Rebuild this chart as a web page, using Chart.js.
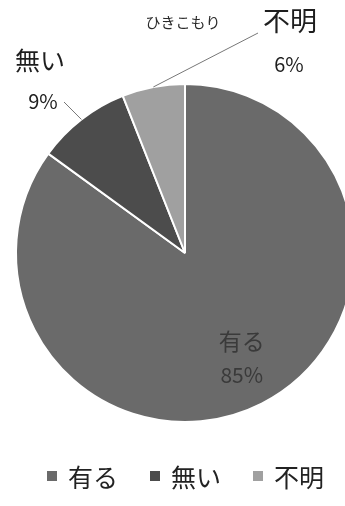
<!DOCTYPE html>
<html>
<head>
<meta charset="utf-8">
<script src="https://cdn.jsdelivr.net/npm/chart.js@4.4.0/dist/chart.umd.min.js"></script>
<style>
  html, body { margin: 0; padding: 0; background: #fff; overflow: hidden; width: 345px; height: 506px; }
  #wrap { position: relative; width: 345px; height: 506px; }
  #pie { position: absolute; left: 0; top: 0; }
  #legend { position: absolute; left: 47px; top: 458px; width: 320px; display: flex; white-space: nowrap;
            font-family: "Noto Sans CJK JP", sans-serif; font-size: 25px; line-height: 36px; color: #222; }
  #legend span.item { display: flex; flex: none; align-items: center; margin: 0 32px 0 0; }
  #legend span.box { display: inline-block; flex: none; width: 10px; height: 10px; margin-right: 11px; }
</style>
</head>
<body>
<div id="wrap">
  <canvas id="pie" width="370" height="506"></canvas>
  <div id="legend"></div>
</div>
<script>
// 回答の内訳
const labels = ['有る', '無い', '不明'];
const values = [85, 9, 6];
const colors = ['#6a6a6a', '#4c4c4c', '#a0a0a0'];

// 円グラフの外側に置くラベルの位置
const labelSpots = {
    '有る': { inside: true },
    '無い': { tx: 40, ty: 60, px: 43, py: 101, lx: 64, ly: 102 },
    '不明': { tx: 290, ty: 21, px: 289, py: 64, lx: 258, ly: 33 }
};

// 凡例（HTML）
const legendEl = document.getElementById('legend');
labels.forEach(function(name, i) {
    const item = document.createElement('span');
    item.className = 'item';
    item.innerHTML = '<span class="box" style="background:' + colors[i] + '"></span>' + name;
    legendEl.appendChild(item);
});

const pieLabels = {
    id: 'pieLabels',
    afterDraw: function(chart) {
        const ctx = chart.ctx;
        const meta = chart.getDatasetMeta(0);
        ctx.save();
        ctx.textAlign = 'center';
        ctx.textBaseline = 'middle';
        meta.data.forEach(function(arc, i) {
            const name = labels[i];
            const pct = values[i] + '%';
            const mid = (arc.startAngle + arc.endAngle) / 2;
            const spot = labelSpots[name];
            if (spot.inside) {
                const r = arc.outerRadius * 0.7;
                const x = arc.x + Math.cos(mid) * r;
                const y = arc.y + Math.sin(mid) * r;
                ctx.fillStyle = '#3a3a3a';
                ctx.font = '23px "Noto Sans CJK JP"';
                ctx.fillText(name, x + 3, y - 17);
                ctx.font = '21px "Noto Sans CJK JP"';
                ctx.fillText(pct, x + 3, y + 17);
                return;
            }
            // 引き出し線
            const ex = arc.x + Math.cos(mid) * arc.outerRadius;
            const ey = arc.y + Math.sin(mid) * arc.outerRadius;
            ctx.strokeStyle = '#777';
            ctx.lineWidth = 1;
            ctx.beginPath();
            ctx.moveTo(ex, ey);
            ctx.lineTo(spot.lx, spot.ly);
            ctx.stroke();
            ctx.fillStyle = '#1e1e1e';
            ctx.font = (name === '不明' ? '27px' : '25px') + ' "Noto Sans CJK JP"';
            ctx.fillText(name, spot.tx, spot.ty);
            ctx.font = '20px "Noto Sans CJK JP"';
            ctx.fillText(pct, spot.px, spot.py);
        });
        // 補足の小さな文字
        ctx.fillStyle = '#2a2a2a';
        ctx.font = '15px "Noto Sans CJK JP"';
        ctx.fillText('ひきこもり', 183, 22);
        ctx.restore();
    }
};

new Chart(document.getElementById('pie'), {
    type: 'pie',
    data: {
        labels: labels,
        datasets: [{
            data: values,
            backgroundColor: colors,
            borderColor: '#ffffff',
            borderWidth: 2
        }]
    },
    options: {
        responsive: false,
        animation: false,
        devicePixelRatio: 1,
        layout: { padding: { left: 15, right: 15, top: 83, bottom: 83 } },
        plugins: {
            legend: { display: false },
            tooltip: { enabled: false }
        }
    },
    plugins: [pieLabels]
});
</script>
</body>
</html>
